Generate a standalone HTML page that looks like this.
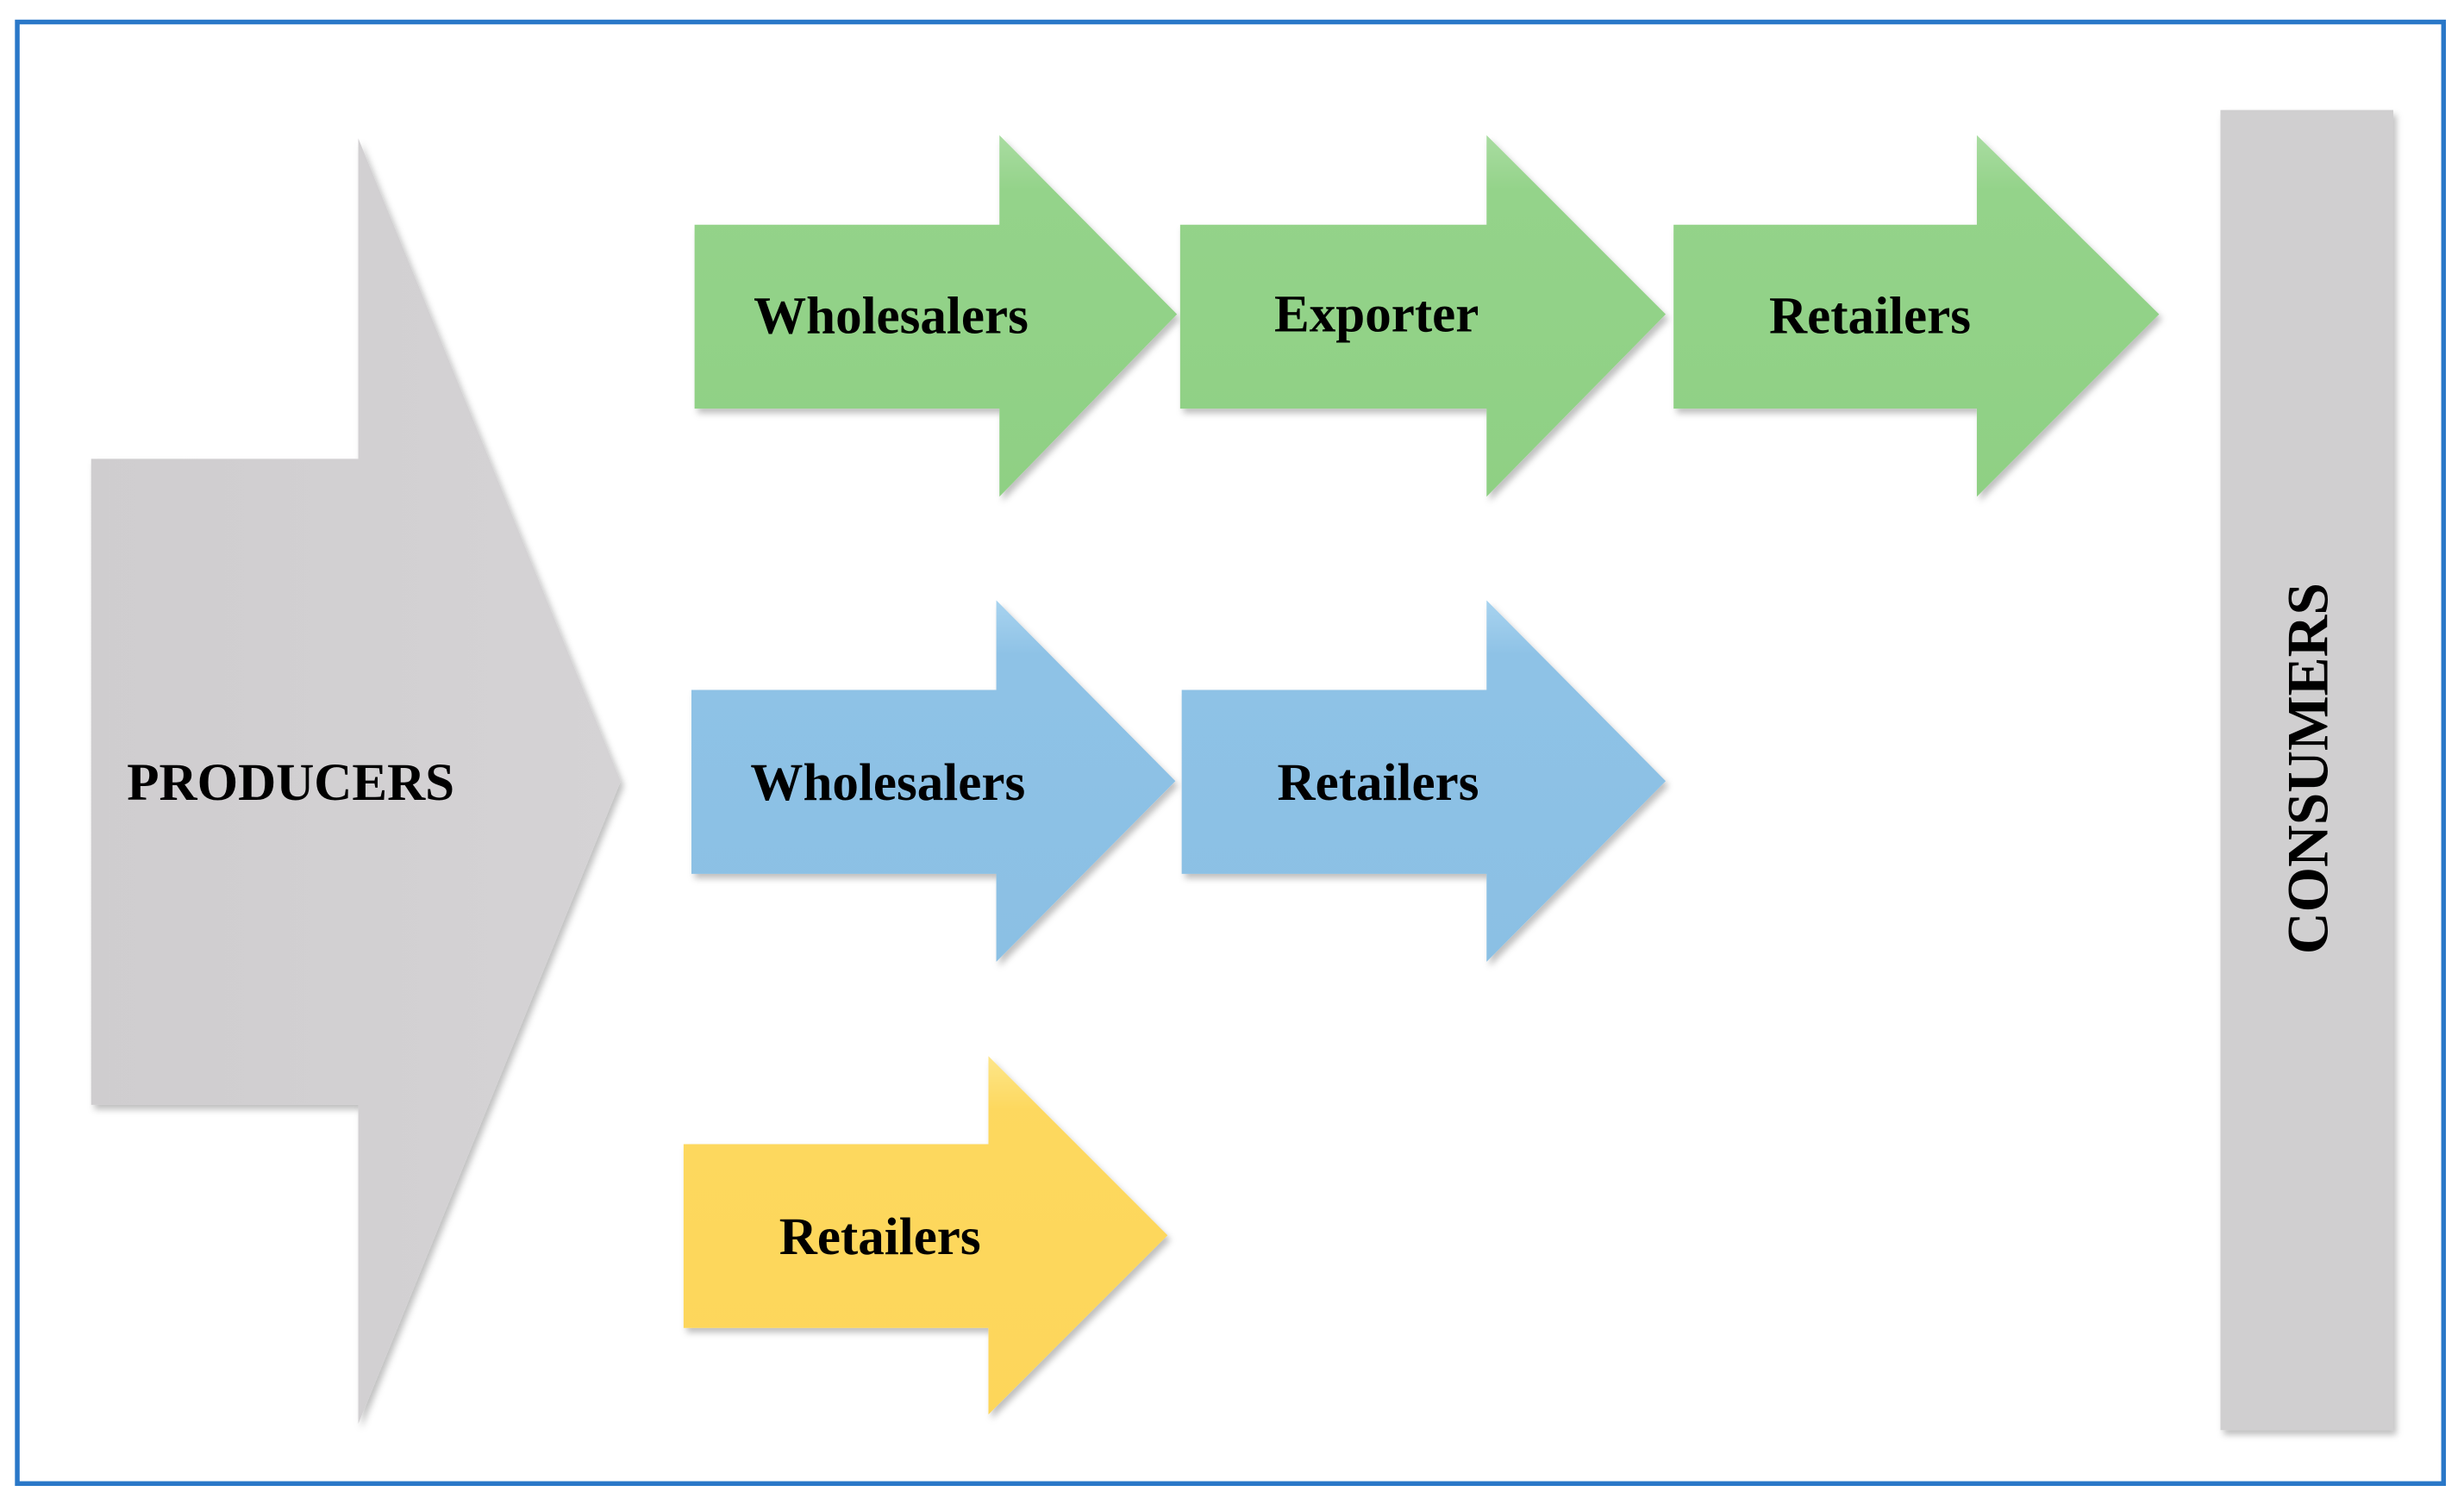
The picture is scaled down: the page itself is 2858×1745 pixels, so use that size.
<!DOCTYPE html>
<html><head><meta charset="utf-8"><style>
html,body{margin:0;padding:0;background:#fff;}
svg{display:block}
text{font-family:"Liberation Serif",serif;font-weight:bold;fill:#000;}
</style></head><body>
<svg width="2858" height="1745" viewBox="0 0 1568 957" preserveAspectRatio="none" xmlns="http://www.w3.org/2000/svg">
<defs>
<linearGradient id="g" x1="0" y1="0" x2="0" y2="1"><stop offset="0" stop-color="#a9dca1"/><stop offset="0.15" stop-color="#94d38a"/><stop offset="1" stop-color="#8fd084"/></linearGradient>
<linearGradient id="b" x1="0" y1="0" x2="0" y2="1"><stop offset="0" stop-color="#a8d3ef"/><stop offset="0.15" stop-color="#8ec2e6"/><stop offset="1" stop-color="#8bc0e4"/></linearGradient>
<linearGradient id="y" x1="0" y1="0" x2="0" y2="1"><stop offset="0" stop-color="#fde68a"/><stop offset="0.15" stop-color="#fdd85e"/><stop offset="1" stop-color="#fdd65a"/></linearGradient>
<linearGradient id="p" x1="0" y1="0" x2="1" y2="0"><stop offset="0" stop-color="#cfcdcf"/><stop offset="1" stop-color="#d5d3d5"/></linearGradient>
<filter id="s" x="-5%" y="-5%" width="110%" height="110%"><feDropShadow dx="2" dy="3" stdDeviation="2" flood-color="#000" flood-opacity="0.25"/></filter>
</defs>
<rect x="11" y="14" width="1544" height="930" fill="#fff" stroke="#2a78c8" stroke-width="3"/>
<polygon filter="url(#s)" fill="url(#p)" points="58,292 228,292 228,88 395,497 228,906 228,703 58,703"/>
<g filter="url(#s)">
<polygon fill="url(#g)" points="442,143 636,143 636,86 749,200 636,316 636,260 442,260"/>
<polygon fill="url(#g)" points="751,143 946,143 946,86 1060,200 946,316 946,260 751,260"/>
<polygon fill="url(#g)" points="1065,143 1258,143 1258,86 1374,200 1258,316 1258,260 1065,260"/>
<polygon fill="url(#b)" points="440,439 634,439 634,382 748,497 634,612 634,556 440,556"/>
<polygon fill="url(#b)" points="752,439 946,439 946,382 1060,497 946,612 946,556 752,556"/>
<polygon fill="url(#y)" points="435,728 629,728 629,672 743,786 629,900 629,845 435,845"/>
<rect x="1413" y="70" width="110" height="840" fill="#d0cfd0"/>
</g>
<g font-size="33.5">
<text x="567" y="212" text-anchor="middle">Wholesalers</text>
<text x="876" y="211" text-anchor="middle">Exporter</text>
<text x="1190" y="212" text-anchor="middle">Retailers</text>
<text x="565" y="509" text-anchor="middle">Wholesalers</text>
<text x="877" y="509" text-anchor="middle">Retailers</text>
<text x="560" y="798" text-anchor="middle">Retailers</text>
<text x="185" y="509" text-anchor="middle">PRODUCERS</text>
<text transform="translate(1481,489) rotate(-90)" text-anchor="middle" font-size="37">CONSUMERS</text>
</g>
</svg>
</body></html>
